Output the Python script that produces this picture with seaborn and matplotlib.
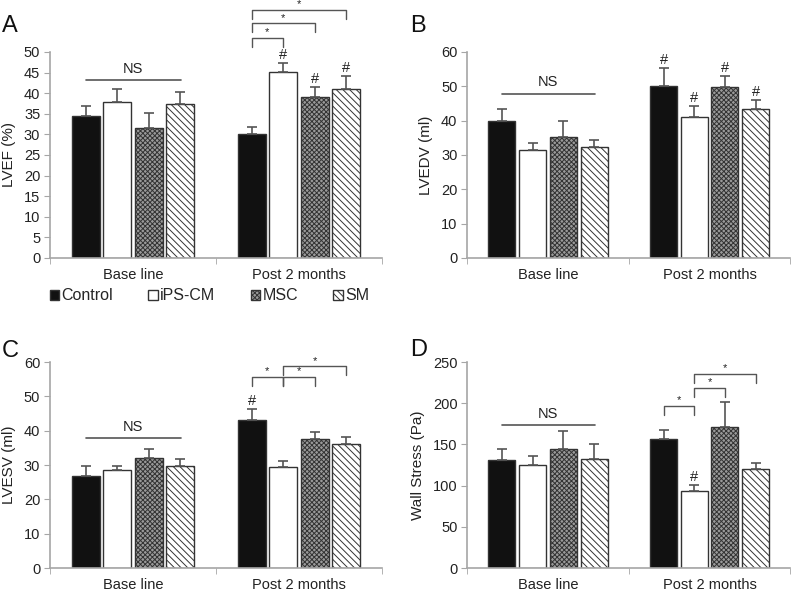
import numpy as np
import pandas as pd
import matplotlib
matplotlib.use('Agg')
import matplotlib.pyplot as plt
from matplotlib.patches import Patch
import seaborn as sns

groups = ['Control', 'iPS-CM', 'MSC', 'SM']
times = ['Base line', 'Post 2 months']

# mean values, [base line, post 2 months] x groups
lvef = [[34.4, 37.8, 31.6, 37.3], [30.0, 45.2, 39.0, 41.1]]
lvef_err = [[2.6, 3.1, 3.5, 3.0], [1.7, 2.2, 2.5, 3.0]]
lvedv = [[39.9, 31.4, 35.1, 32.4], [50.1, 41.2, 49.9, 43.3]]
lvedv_err = [[3.4, 2.0, 4.9, 2.0], [5.1, 3.1, 3.0, 2.7]]
lvesv = [[26.8, 28.5, 31.9, 29.7], [43.1, 29.5, 37.5, 36.2]]
lvesv_err = [[3.0, 1.3, 2.8, 2.1], [3.3, 1.8, 2.0, 2.0]]
stress = [[131, 124.6, 144.4, 132.3], [156.6, 93, 170.7, 120]]
stress_err = [[14, 11, 22, 18], [10.4, 7.3, 30.3, 8]]

# '#' marks (post 2 months, group index) and brackets (group a, group b, height)
hash_a = [1, 2, 3]
hash_b = [0, 1, 2, 3]
hash_c = [0]
hash_d = [1]
br_a = [(0, 1, 53.4), (0, 2, 57.0), (0, 3, 60.3)]
br_c = [(0, 1, 55.7), (1, 2, 55.7), (1, 3, 58.8)]
br_d = [(0, 1, 197), (1, 2, 219), (1, 3, 236)]

sns.set_style('white')
plt.rcParams['font.family'] = ['Liberation Sans', 'DejaVu Sans']
plt.rcParams['hatch.linewidth'] = 0.7

fills = ['#111111', 'white', '#9a9a9a', 'white']
hatches = ['', '', 'xxxxxxx', '\\\\\\\\\\']
edge = '#333333'
axc = '#a6a6a6'


def panel(ax, vals, errs, ylabel, ymax, step, letter, ns_y, hashes, brackets):
    df = pd.DataFrame({
        'time': np.repeat(times, 4),
        'group': groups * 2,
        'val': np.ravel(vals),
        'err': np.ravel(errs),
    })
    sns.barplot(data=df, x='time', y='val', hue='group', order=times,
                hue_order=groups, palette=fills, width=0.76, gap=0.12,
                errorbar=None, edgecolor=edge, linewidth=1.0, legend=False,
                ax=ax, zorder=2)
    centers = {}
    for gi, cont in enumerate(ax.containers):
        for ti, bar in enumerate(cont):
            bar.set_hatch(hatches[gi])
            bar.set_facecolor(fills[gi])
            bar.set_edgecolor(edge)
            centers[(ti, gi)] = bar.get_x() + bar.get_width() / 2
    xs = [centers[(ti, gi)] for ti in range(2) for gi in range(4)]
    ax.errorbar(xs, df['val'], yerr=[np.zeros(8), df['err']], fmt='none',
                ecolor='#555555', elinewidth=1.2, capsize=3.5, capthick=1.2, zorder=3)

    ax.set_xlim(-0.5, 1.5)
    ax.set_ylim(0, ymax)
    ax.set_yticks(np.arange(0, ymax + 0.1, step))
    ax.set_xlabel('')
    ax.set_ylabel(ylabel, fontsize=11, color='#222222', labelpad=6)
    ax.tick_params(axis='y', left=True, length=4, color=axc, labelsize=10.5,
                   labelcolor='#222222', pad=3)
    ax.tick_params(axis='x', bottom=False, labelsize=10.5, labelcolor='#222222', pad=4)
    ax.set_xticks([-0.5, 0.5, 1.5], minor=True)
    ax.tick_params(axis='x', which='minor', bottom=True, length=4, color=axc)
    sns.despine(ax=ax)
    for s in ['left', 'bottom']:
        ax.spines[s].set_color(axc)
        ax.spines[s].set_linewidth(1.2)

    # NS line over base line group
    ax.plot([-0.285, 0.29], [ns_y, ns_y], color='#555555', lw=1.2, clip_on=False)
    ax.text(0.0, ns_y + ymax * 0.02, 'NS', ha='center', va='bottom',
            fontsize=10.5, color='#222222')

    for gi in hashes:
        top = vals[1][gi] + errs[1][gi]
        ax.text(centers[(1, gi)], top + ymax * 0.005, '#', ha='center',
                va='bottom', fontsize=10.5, color='#222222')

    drop = ymax * 0.045
    for a, b, h in brackets:
        xa, xb = centers[(1, a)], centers[(1, b)]
        ax.plot([xa, xa, xb, xb], [h - drop, h, h, h - drop], color='#555555',
                lw=1.0, clip_on=False)
        ax.text((xa + xb) / 2, h + ymax * 0.002, '*', ha='center', va='bottom',
                fontsize=8, color='#222222')

    ax.figure.text(*letter, ha='left', va='top', fontsize=17, color='#111111')


fig = plt.figure(figsize=(8, 5.92), dpi=100)
ax_a = fig.add_axes([0.0625, 0.5642, 0.415, 0.348])
ax_b = fig.add_axes([0.584, 0.5642, 0.404, 0.348])
ax_c = fig.add_axes([0.0625, 0.0405, 0.415, 0.348])
ax_d = fig.add_axes([0.584, 0.0405, 0.404, 0.348])

panel(ax_a, lvef, lvef_err, 'LVEF (%)', 50, 5, (0.002, 0.975, 'A'), 43.1, hash_a, br_a)
panel(ax_b, lvedv, lvedv_err, 'LVEDV (ml)', 60, 10, (0.513, 0.975, 'B'), 47.9, hash_b, [])
panel(ax_c, lvesv, lvesv_err, 'LVESV (ml)', 60, 10, (0.002, 0.425, 'C'), 37.9, hash_c, br_c)
panel(ax_d, stress, stress_err, 'Wall Stress (Pa)', 250, 50, (0.513, 0.428, 'D'), 173.5, hash_d, br_d)

handles = [Patch(facecolor=fills[i], edgecolor=edge, hatch=hatches[i], label=groups[i])
           for i in range(4)]
fig.legend(handles=handles, loc='center', bbox_to_anchor=(0.262, 0.5), ncol=4,
           frameon=False, fontsize=11.5, handlelength=0.6, handleheight=0.6,
           handletextpad=0.15, columnspacing=2.2, borderaxespad=0)

fig.savefig('out.png', dpi=100)
